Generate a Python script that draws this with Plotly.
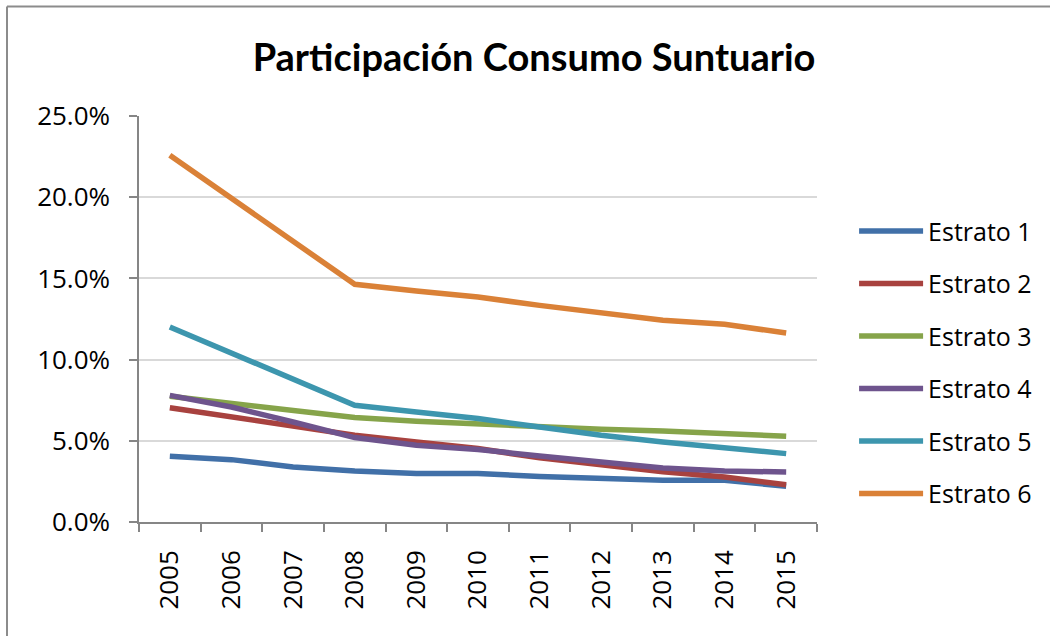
import plotly.graph_objects as go

years = ["2005", "2006", "2007", "2008", "2009", "2010", "2011", "2012", "2013", "2014", "2015"]
series_names = ["Estrato 1", "Estrato 2", "Estrato 3", "Estrato 4", "Estrato 5", "Estrato 6"]
estrato_1 = [4.05, 3.84, 3.39, 3.14, 2.98, 2.98, 2.80, 2.65, 2.57, 2.57, 2.20]
estrato_2 = [7.04, 6.47, 5.91, 5.34, 4.93, 4.52, 3.95, 3.50, 3.10, 2.77, 2.30]
estrato_3 = [7.74, 7.31, 6.88, 6.43, 6.20, 6.02, 5.85, 5.71, 5.60, 5.48, 5.28]
estrato_4 = [7.80, 7.08, 6.16, 5.20, 4.72, 4.46, 4.07, 3.72, 3.33, 3.14, 3.08]
estrato_5 = [12.01, 10.40, 8.80, 7.19, 6.77, 6.37, 5.85, 5.34, 4.93, 4.56, 4.21]
estrato_6 = [22.58, 19.93, 17.29, 14.64, 14.22, 13.85, 13.34, 12.85, 12.42, 12.17, 11.64]
colors = ["#4170A8", "#A8423F", "#86A44A", "#6E548D", "#3D96AE", "#DA8137"]

all_series = [estrato_1, estrato_2, estrato_3, estrato_4, estrato_5, estrato_6]

fig = go.Figure()
for name, vals, col in zip(series_names, all_series, colors):
    fig.add_trace(go.Scatter(
        x=years, y=[v / 100 for v in vals], name=name, mode="lines",
        line=dict(color=col, width=5.5), legendgroup=name,
    ))

W, H = 1050, 636
ml, mr, mt, mb = 139, 233, 116, 114
pw, ph = W - ml - mr, H - mt - mb

def px_x(x):
    return (x - ml) / pw

def px_y(y):
    return (H - mb - y) / ph

fig.update_layout(
    width=W, height=H,
    margin=dict(l=ml, r=mr, t=mt, b=mb),
    paper_bgcolor="white", plot_bgcolor="white",
    font=dict(family="Open Sans, sans-serif", size=25, color="black"),
    title=dict(text="<b>Participación Consumo Suntuario</b>", x=0.5086, xref="container",
               xanchor="center", y=0.91, yanchor="middle",
               font=dict(family="Lato, sans-serif", size=38, color="black")),
    legend=dict(x=1.0547, y=0.773, xanchor="left", yanchor="top",
                font=dict(size=25), tracegroupgap=17, itemwidth=64,
                bgcolor="rgba(0,0,0,0)"),
    xaxis=dict(type="category", range=[-0.5, 10.5], showgrid=False,
               showline=True, linecolor="#868686", linewidth=1.5,
               ticks="outside", ticklen=8, tickcolor="#868686", tickwidth=1.5,
               tickangle=-90, tickfont=dict(size=26), tickson="boundaries",
               ticklabelstandoff=16),
    yaxis=dict(range=[0, 0.25], dtick=0.05, tickformat=".1%",
               showgrid=True, gridcolor="#D9D9D9", gridwidth=1.5,
               showline=True, linecolor="#868686", linewidth=1.5,
               ticks="outside", ticklen=8, tickcolor="#868686", tickwidth=1.5,
               tickfont=dict(size=26), zeroline=False, ticklabelstandoff=14),
    shapes=[
        dict(type="line", xref="paper", yref="paper",
             x0=px_x(7), x1=px_x(1052), y0=px_y(6.5), y1=px_y(6.5),
             line=dict(color="#8C8C8C", width=2)),
        dict(type="line", xref="paper", yref="paper",
             x0=px_x(7), x1=px_x(7), y0=px_y(6.5), y1=px_y(640),
             line=dict(color="#8C8C8C", width=2)),
    ],
)

fig.write_html("out.html", post_script="document.body.style.margin='0';",
               config={"displayModeBar": False})
